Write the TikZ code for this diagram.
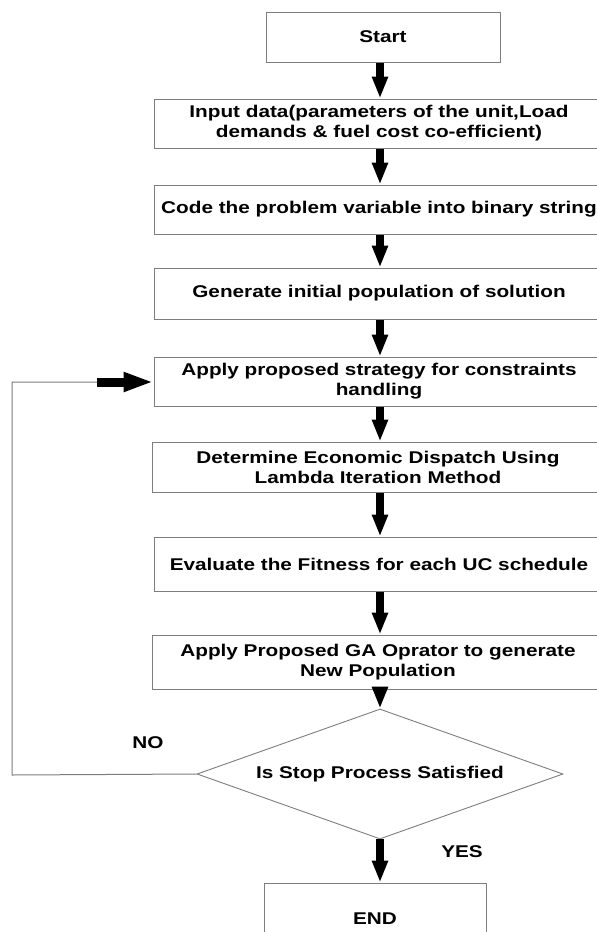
\documentclass[tikz,border=0pt]{standalone}
\usepackage{fontspec}
\setmainfont{Liberation Sans}[FakeStretch=1.22]
\usetikzlibrary{shapes.geometric,arrows.meta}
\definecolor{boxgray}{RGB}{125,125,125}
\begin{document}
\begin{tikzpicture}[x=1pt,y=-1pt,
  font=\fontsize{17}{20}\selectfont\bfseries,
  box/.style={draw=boxgray,line width=1pt,rectangle,inner sep=0pt,align=center},
  decbox/.style={draw=boxgray,line width=0.9pt,diamond,aspect=2.815,inner sep=0pt,
     minimum width=366pt,minimum height=130pt,align=center},
  thinline/.style={draw=boxgray,line width=1pt},
  vbig/.style={draw=black,line width=8pt,-{Triangle[width=15pt,length=22pt]}},
  hbig/.style={draw=black,line width=9pt,-{Triangle[width=18pt,length=30pt]}},
  lbl/.style={inner sep=0pt}]
\useasboundingbox (0,0) rectangle (597,932);
\clip (0,0) rectangle (597,932);
\node[box,minimum width=234pt,minimum height=50pt] (start) at (383,37) {Start};
\node[box,minimum width=450pt,minimum height=49pt] (input) at (379,123.5)
  {Input data(parameters of the unit,Load\\ demands \& fuel cost co-efficient)};
\node[box,minimum width=450pt,minimum height=49pt] (code) at (379,209.5)
  {Code the problem variable into binary string};
\node[box,minimum width=450pt,minimum height=51pt] (gen) at (379,293.5)
  {Generate initial population of solution};
\node[box,minimum width=450pt,minimum height=49pt] (apply) at (379,381.5)
  {Apply proposed strategy for constraints\\handling};
\node[box,minimum width=452pt,minimum height=50pt] (det) at (378,467)
  {Determine Economic Dispatch Using\\Lambda Iteration Method};
\node[box,minimum width=450pt,minimum height=54pt] (eval) at (379,564)
  {Evaluate the Fitness for each UC schedule};
\node[box,minimum width=452pt,minimum height=54pt] (ga) at (378,662)
  {Apply Proposed GA Oprator to generate\\New Population};
\node[decbox] (dec) at (380,774) {Is Stop Process Satisfied};
\node[box,minimum width=222pt,minimum height=72pt] (end) at (375,919) {END};
\node[lbl] (no) at (148,743) {NO};
\node[lbl] (yes) at (462,852) {YES};
\coordinate (ax) at (380,0);
\coordinate (c1) at (12,775);
\coordinate (c3) at (97,382);
\draw[vbig] (start.south -| ax) -- (input.north -| ax);
\draw[vbig] (input.south -| ax) -- (code.north -| ax);
\draw[vbig] (code.south -| ax) -- (gen.north -| ax);
\draw[vbig] (gen.south -| ax) -- (apply.north -| ax);
\draw[vbig] (apply.south -| ax) -- (det.north -| ax);
\draw[vbig] (det.south -| ax) -- (eval.north -| ax);
\draw[vbig] (eval.south -| ax) -- (ga.north -| ax);
\draw[vbig] (ga.south -| ax) -- (dec.north);
\draw[vbig] (dec.south) -- (end.north -| dec.south);
\draw[thinline] (dec.west) -- (c1) |- (c3);
\draw[hbig] (c3) -- (apply.west |- c3);
\end{tikzpicture}
\end{document}
